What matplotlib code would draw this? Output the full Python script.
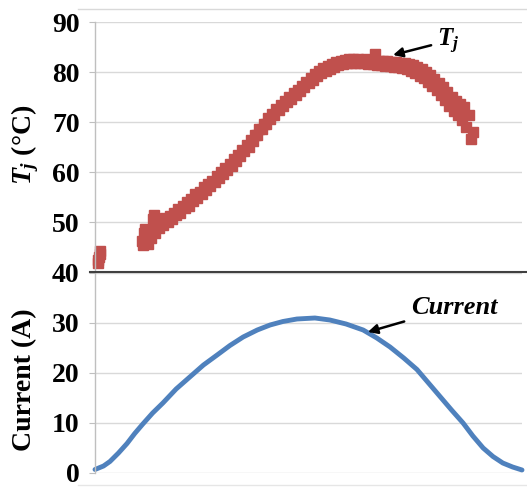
import matplotlib
matplotlib.use('Agg')
import matplotlib.pyplot as plt
from matplotlib.lines import Line2D

plt.rcParams['font.family'] = ['Liberation Serif', 'DejaVu Serif']
plt.rcParams['mathtext.fontset'] = 'custom'
plt.rcParams['mathtext.rm'] = 'Liberation Serif:bold'
plt.rcParams['mathtext.it'] = 'Liberation Serif:bold:italic'

# current waveform (A)
cur_t = [0, 2, 3.5, 5.5, 7.5, 9.3, 11.2, 13.5, 15.9, 19, 22.2, 25.4, 28.6, 31.6, 34.7,
         38, 41, 44, 47.3, 51.5, 55, 58.8, 62.8, 66, 69.1, 72.3, 75.4, 78, 80.8,
         83.5, 86.2, 88.5, 90.9, 93.2, 95.5, 97.8, 100]
cur_a = [0.7, 1.4, 2.3, 4.0, 5.9, 7.9, 9.8, 12, 14, 16.8, 19.2, 21.6, 23.6, 25.5, 27.2,
         28.6, 29.6, 30.3, 30.8, 31, 30.6, 29.8, 28.6, 27, 25.2, 23, 20.7, 18.1, 15.3,
         12.6, 10, 7.4, 5.0, 3.3, 2, 1.2, 0.6]

# junction temperature samples (two rows of the scattered band)
tj_t = list(range(11, 89))
tj_a = [46.2, 46.0, 46.8, 47.8, 48.8, 49.4, 50.0, 50.6, 51.4, 51.8,
        52.8, 53.3, 54.2, 54.9, 55.6, 56.5, 57.2, 58.0, 58.8, 59.6,
        60.4, 61.3, 62.3, 63.2, 64.2, 65.1, 66.2, 67.4, 68.6, 69.6,
        70.6, 71.5, 72.4, 73.2, 74.0, 74.7, 75.4, 76.2, 77.0, 77.9,
        78.5, 79.3, 79.9, 80.3, 80.7, 81.0, 81.4, 81.6, 81.8, 81.9,
        81.9, 81.8, 81.8, 81.7, 81.6, 81.5, 81.4, 81.3, 81.2, 81.1,
        81.0, 80.8, 80.6, 80.3, 79.8, 79.3, 78.8, 78.0, 77.2, 76.5,
        75.5, 74.4, 73.3, 72.2, 71.4, 70.5, 69.0, 66.6]
tj_b = [47.8, 48.2, 48.4, 49.0, 50.0, 50.8, 51.2, 51.8, 52.6, 53.2,
        54.0, 54.6, 55.6, 56.0, 57.0, 57.6, 58.3, 59.2, 60.0, 60.9,
        61.6, 62.6, 63.5, 64.5, 65.4, 66.4, 67.5, 68.6, 69.7, 70.8,
        71.7, 72.6, 73.5, 74.3, 75.1, 75.8, 76.5, 77.3, 78.1, 78.9,
        79.6, 80.3, 80.9, 81.3, 81.6, 82.0, 82.2, 82.4, 82.6, 82.7,
        82.6, 82.5, 82.6, 82.4, 83.6, 82.3, 82.3, 82.2, 82.1, 82.0,
        81.9, 81.8, 81.7, 81.5, 81.0, 80.6, 80.1, 79.4, 78.7, 77.9,
        77.0, 76.0, 75.0, 74.2, 73.6, 73.0, 71.5, 68.0]
# isolated points (start cluster and outliers)
tj_x_t = [0.6, 0.8, 0.9, 1.1, 1.2, 11.2, 11.6, 12.4, 13.8, 13.6]
tj_x_v = [41.8, 42.4, 43.0, 43.6, 44.2, 45.4, 48.6, 45.6, 51.4, 50.6]

red = '#C0504D'
blue = '#4F81BD'
grid = '#D9D9D9'
axis_gray = '#BFBFBF'

fig = plt.figure(figsize=(5.27, 4.87), dpi=100)
ax1 = fig.add_axes([95/527, 1 - 272/487, 427/527, 250/487])
ax2 = fig.add_axes([95/527, 1 - 473/487, 427/527, 200/487], sharex=ax1)

for ax in (ax1, ax2):
    ax.set_xlim(0, 100)
    for s in ('top', 'right', 'bottom'):
        ax.spines[s].set_visible(False)
    ax.spines['left'].set_color(axis_gray)
    ax.spines['left'].set_linewidth(1.0)
    ax.yaxis.grid(True, color=grid, linewidth=1.0)
    ax.set_axisbelow(True)
    ax.tick_params(axis='x', bottom=False, labelbottom=False)
    ax.tick_params(axis='y', direction='out', length=4, color=axis_gray,
                   pad=7, labelsize=20)

ax1.set_ylim(40, 90)
ax1.set_yticks([40, 50, 60, 70, 80, 90])
ax1.set_yticklabels(['40', '50', '60', '70', '80', '90'], fontweight='bold')
ax2.set_ylim(0, 40)
ax2.set_yticks([0, 10, 20, 30, 40])
ax2.set_yticklabels(['0', '10', '20', '30', ''], fontweight='bold')

ms = 6.5
ax1.plot(tj_t, tj_a, 's', color=red, ms=ms, mec=red)
ax1.plot([t + 0.5 for t in tj_t], tj_b, 's', color=red, ms=ms, mec=red)
ax1.plot(tj_x_t, tj_x_v, 's', color=red, ms=ms, mec=red, clip_on=False)

ax2.plot(cur_t, cur_a, color=blue, lw=3.5, solid_capstyle='round', clip_on=False)

ax1.annotate(r'$T_j$', xy=(69.8, 83.4), xytext=(80.0, 86.2), fontsize=18,
             va='center', ha='left',
             arrowprops=dict(arrowstyle='-|>', color='black', lw=1.8,
                             mutation_scale=14, shrinkA=2, shrinkB=0))
ax2.annotate('Current', xy=(63.9, 28.2), xytext=(74.0, 33.2), fontsize=19,
             fontweight='bold', fontstyle='italic', va='center', ha='left',
             arrowprops=dict(arrowstyle='-|>', color='black', lw=1.8,
                             mutation_scale=14, shrinkA=3, shrinkB=0))

fig.text(25/527, 1 - 145/487, r'$T_j$ (°C)', rotation=90, ha='center',
         va='center', fontsize=20, fontweight='bold')
fig.text(25/527, 1 - 380/487, 'Current (A)', rotation=90, ha='center',
         va='center', fontsize=20, fontweight='bold')

# dark separator between the two panels and faint outer border lines
fig.add_artist(Line2D([90/527, 1.0], [1 - 272/487] * 2, color='#404040', lw=1.5))
fig.add_artist(Line2D([78/527, 1.0], [1 - 9/487] * 2, color='#D9D9D9', lw=1.0))
fig.add_artist(Line2D([78/527, 1.0], [1 - 485/487] * 2, color='#E6E6E6', lw=1.0))

fig.savefig('out.png', dpi=100)
